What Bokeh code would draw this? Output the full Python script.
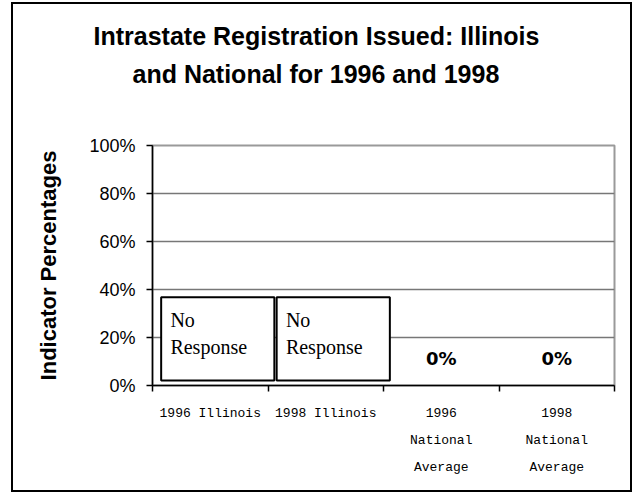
from bokeh.plotting import figure
from bokeh.models import (Range1d, FixedTicker, NumeralTickFormatter, Title,
                          ColumnDataSource)
from bokeh.core.properties import value
from bokeh.embed import file_html
from bokeh.resources import INLINE

# ---- data ----
title_lines = ["Intrastate Registration Issued: Illinois",
               "and National for 1996 and 1998"]
categories = ["1996 Illinois", "1998 Illinois",
              "1996\nNational\nAverage", "1998\nNational\nAverage"]
values = [None, None, 0.0, 0.0]          # None = no response
no_response_text = "No\nResponse"
y_ticks = [0.0, 0.2, 0.4, 0.6, 0.8, 1.0]
y_title = "Indicator Percentages"

# ---- styles ----
W, H = 621, 490
box_shift, box_width = 0.065, 0.98
box_bottom, box_top = 0.021, 0.368
nr_text_dx, nr_text_y = -0.345, 0.217
zero_label_dy = 0.114

xs = [i + 0.5 for i in range(len(categories))]

p = figure(width=W, height=H, output_backend="svg", toolbar_location=None,
           x_range=Range1d(0, len(categories)), y_range=Range1d(0, 1),
           min_border_left=139, min_border_right=20,
           min_border_top=141, min_border_bottom=109,
           background_fill_color="white", border_fill_color="white",
           styles={"border": "2px solid black", "margin-left": "11px",
                   "margin-top": "2px"})

p.outline_line_color = "#9a9a9a"
p.outline_line_width = 2

# grid
p.xgrid.visible = False
p.ygrid.ticker = FixedTicker(ticks=y_ticks)
p.ygrid.grid_line_color = "#777777"
p.ygrid.grid_line_width = 1.5

# y axis
ya = p.yaxis[0]
ya.ticker = FixedTicker(ticks=y_ticks, minor_ticks=[])
ya.formatter = NumeralTickFormatter(format="0%")
ya.major_label_text_font = "Liberation Sans"
ya.major_label_text_font_size = "18px"
ya.major_label_text_color = "black"
ya.major_tick_out = 6
ya.major_tick_in = 0
ya.major_tick_line_width = 1.5
ya.axis_line_width = 1.5
ya.axis_line_color = "black"
ya.major_label_standoff = 11
ya.axis_label = y_title
ya.axis_label_text_font = "Liberation Sans"
ya.axis_label_text_font_style = "bold"
ya.axis_label_text_font_size = "22px"
ya.axis_label_text_color = "black"
ya.axis_label_standoff = 25

# x axis
xa = p.xaxis[0]
xa.ticker = FixedTicker(ticks=xs, minor_ticks=list(range(len(categories) + 1)))
xa.major_label_overrides = {x: c for x, c in zip(xs, categories)}
xa.major_label_text_font = "Liberation Mono"
xa.major_label_text_font_size = "13px"
xa.major_label_text_color = "black"
xa.major_label_text_line_height = 1.8
xa.major_tick_out = 0
xa.major_tick_in = 0
xa.minor_tick_out = 6
xa.minor_tick_in = 0
xa.minor_tick_line_color = "black"
xa.minor_tick_line_width = 1.5
xa.axis_line_width = 1.5
xa.axis_line_color = "black"
xa.major_label_standoff = 14

# "No Response" boxes
nr_x = [x for x, v in zip(xs, values) if v is None]
src_nr = ColumnDataSource(dict(
    left=[x + box_shift - box_width / 2 for x in nr_x],
    right=[x + box_shift + box_width / 2 for x in nr_x],
    tx=[x + nr_text_dx for x in nr_x],
    ty=[nr_text_y] * len(nr_x),
    text=[no_response_text] * len(nr_x)))
p.quad(left="left", right="right", bottom=box_bottom, top=box_top, source=src_nr,
       fill_color="white", line_color="black", line_width=2)
p.text(x="tx", y="ty", text="text", source=src_nr,
       text_font=value("Liberation Serif"), text_font_size="20px",
       text_color="black", text_align="left", text_baseline="middle",
       text_line_height=1.25)

# value labels
val_x = [x for x, v in zip(xs, values) if v is not None]
val_v = [v for v in values if v is not None]
src_v = ColumnDataSource(dict(x=val_x, y=[v + zero_label_dy for v in val_v],
                              text=["%d%%" % round(v * 100) for v in val_v]))
p.text(x="x", y="y", text="text", source=src_v,
       text_font=value("DejaVu Sans"), text_font_style="bold",
       text_font_size="18px", text_color="black",
       text_align="center", text_baseline="middle")

# spacer between the title block and the plot area
p.add_layout(Title(text=" ", text_font_size="1px", standoff=51), "above")
# titles (two lines, centred on the chart box)
for txt, off in zip(reversed(title_lines), [-20, -59]):
    p.add_layout(Title(text=txt, align="left", offset=off, standoff=8,
                       text_font="Liberation Sans", text_font_style="bold",
                       text_font_size="25px", text_color="black"), "above")

open("out.html", "w").write(file_html(p, INLINE))
